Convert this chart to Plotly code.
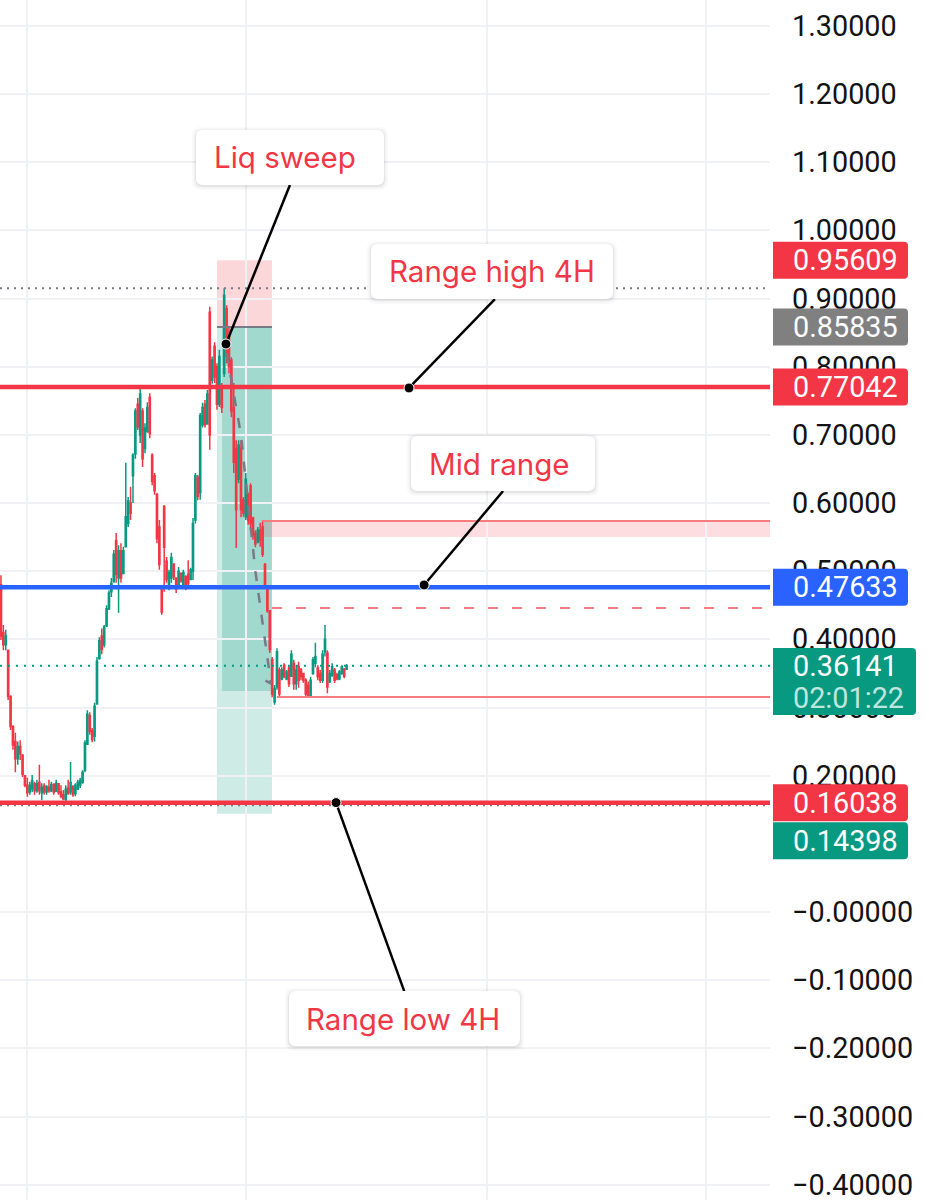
import plotly.graph_objects as go

# candles, one value per bar
opens = [.480,.410,.392,.384,.316,.272,.250,.225,.243,.230,.200,.186,.176,.181,.188,.178,.190,.175,.185,.176,
         .183,.178,.187,.177,.188,.176,.172,.165,.182,.176,.184,.174,.180,.186,.190,.208,.246,.288,.266,.258,
         .305,.372,.405,.392,.420,.445,.470,.485,.545,.490,.530,.497,.536,.570,.600,.640,.672,.745,.700,.735,
         .680,.705,.755,.670,.640,.612,.565,.475,.595,.515,.480,.490,.510,.490,.478,.497,.480,.492,.495,.488,
         .500,.575,.638,.615,.715,.745,.716,.880,.780,.830,.800,.745,.770,.790,.885,.845,.810,.740,.680,.635,
         .680,.605,.580,.612,.625,.578,.556,.542,.560,.565,.510,.476,.442,.370,.308,.330,.355,.342,.362,.342,
         .358,.346,.365,.335,.360,.355,.350,.340,.332,.318,.350,.365,.358,.350,.340,.382,.380,.338,.347,.355,
         .348,.342,.350,.356,.356]
highs = [.494,.421,.414,.384,.318,.274,.263,.250,.252,.232,.201,.197,.191,.201,.191,.194,.216,.189,.189,.186,
         .194,.191,.189,.194,.189,.186,.179,.186,.194,.220,.186,.189,.194,.197,.208,.252,.296,.293,.270,.307,
         .374,.403,.416,.421,.450,.472,.490,.531,.556,.538,.541,.536,.659,.609,.624,.673,.739,.754,.773,.739,
         .717,.748,.761,.673,.644,.615,.575,.477,.597,.521,.502,.527,.512,.491,.506,.497,.502,.494,.516,.505,
         .578,.644,.641,.732,.747,.751,.766,.888,.815,.836,.805,.825,.776,.915,.890,.858,.814,.776,.692,.692,
         .692,.609,.644,.615,.629,.580,.560,.565,.571,.575,.512,.477,.443,.374,.333,.387,.359,.359,.365,.355,
         .362,.384,.370,.362,.367,.358,.351,.343,.338,.345,.374,.395,.362,.355,.384,.421,.384,.355,.365,.358,
         .351,.355,.362,.358,.364]
lows = [.399,.384,.384,.311,.267,.238,.205,.216,.223,.198,.183,.169,.172,.176,.172,.175,.172,.164,.172,.172,
        .175,.176,.172,.176,.172,.167,.164,.157,.172,.172,.169,.170,.179,.182,.188,.205,.245,.260,.249,.250,
        .304,.370,.378,.388,.418,.443,.462,.483,.483,.439,.483,.495,.535,.565,.575,.600,.665,.707,.688,.653,
        .673,.703,.695,.626,.612,.541,.502,.436,.470,.483,.472,.483,.487,.468,.477,.483,.477,.472,.477,.487,
        .487,.570,.604,.605,.711,.711,.715,.678,.775,.776,.737,.741,.732,.785,.805,.790,.726,.644,.534,.629,
        .579,.580,.575,.568,.560,.546,.535,.541,.536,.521,.477,.439,.380,.315,.304,.326,.314,.340,.343,.340,
        .330,.345,.326,.326,.329,.340,.336,.315,.315,.315,.348,.359,.340,.336,.336,.375,.321,.336,.345,.336,
        .340,.340,.348,.343,.355]
closes = [.405,.392,.405,.316,.272,.245,.225,.243,.232,.202,.186,.175,.186,.193,.178,.188,.178,.183,.176,.184,
          .178,.187,.176,.189,.175,.170,.166,.180,.174,.190,.172,.186,.190,.193,.205,.248,.290,.265,.253,.302,
          .368,.398,.385,.418,.445,.468,.482,.525,.495,.530,.490,.530,.580,.603,.585,.670,.735,.712,.760,.665,
          .710,.740,.702,.632,.618,.548,.510,.440,.535,.488,.498,.520,.492,.474,.500,.486,.498,.476,.482,.502,
          .570,.640,.610,.728,.740,.715,.760,.700,.810,.785,.745,.815,.740,.905,.815,.800,.735,.660,.590,.685,
          .590,.585,.635,.575,.570,.552,.540,.560,.545,.525,.480,.442,.385,.320,.328,.382,.320,.355,.345,.352,
          .335,.378,.335,.355,.340,.345,.340,.320,.318,.340,.370,.375,.345,.340,.378,.400,.330,.350,.360,.340,
          .342,.352,.360,.346,.3614]
bars = list(range(len(closes)))

tick_vals = [1.3, 1.2, 1.1, 1.0, 0.9, 0.8, 0.7, 0.6, 0.5, 0.4, 0.3, 0.2, 0.0, -0.1, -0.2, -0.3, -0.4]
tick_text = ['1.30000', '1.20000', '1.10000', '1.00000', '0.90000', '0.80000', '0.70000', '0.60000', '0.50000',
             '0.40000', '0.30000', '0.20000', '−0.00000', '−0.10000', '−0.20000', '−0.30000', '−0.40000']
x_grid = [10.8, 102, 202.5, 293.8]

RED = '#F23645'
TEAL = '#089981'
BLUE = '#2962FF'
GREY = '#787B86'
AXIS_FONT = 'Roboto'

# price levels
range_high = 0.77042
mid_range = 0.47633
range_low = 0.16038
last_price = 0.36141
sweep_high = 0.915
low_dotted = 0.1565
stop = 0.95609
entry = 0.85835
target = 0.14398
pos_inner_low = 0.3242
zone_top = 0.5737
zone_bottom = 0.550
zone_mid = 0.446
zone_low = 0.3154
x_start = -0.4
x_end = 320.4

# position tool and zone, in bars
pos_left = 90
pos_inner_left = 92.1
pos_right = 112.9
zone_left = 108.8
zone_mid_left = 112.9
zone_low_left = 115

# grey dashed projection
proj_x = [94, 100, 106, 112.5, 107.5]
proj_y = [0.82, 0.70, 0.50, 0.335, 0.345]

# callouts
call_text = ['Liq sweep', 'Range high 4H', 'Mid range', 'Range low 4H']
call_px = [290, 492, 503, 404.5]      # box centre, px
call_text_px = [285, 492, 499.5, 402.5]
call_py = [157.5, 271.5, 463.5, 1018.5]
call_w = [188, 242, 184, 231]
call_tip_x = [93.75, 170, 176.3, 139.6]
call_tip_y = [0.8333, 0.7688, 0.4798, 0.1605]
call_from_x = [120.4, 205.8, 209.2, 168]
call_from_y = [1.0666, 0.899, 0.6176, -0.116]

# price labels, the last one is pushed down under its neighbour
label_text = ['0.95609', '0.85835', '0.77042', '0.47633', '0.16038', '0.14398']
label_price = [stop, entry, range_high, mid_range, range_low, 0.1047]
label_color = [RED, '#808080', RED, BLUE, RED, TEAL]


def fx(px):
    return px / 770


def rbox(w, h, r, r_left=None):
    # rounded box, pixel path around its anchor
    l = r if r_left is None else r_left
    return (f'M {-w/2 + l} {-h/2} L {w/2 - r} {-h/2} Q {w/2} {-h/2} {w/2} {-h/2 + r} '
            f'L {w/2} {h/2 - r} Q {w/2} {h/2} {w/2 - r} {h/2} L {-w/2 + l} {h/2} '
            f'Q {-w/2} {h/2} {-w/2} {h/2 - l} L {-w/2} {-h/2 + l} Q {-w/2} {-h/2} {-w/2 + l} {-h/2} Z')


def px_shape(cx, price, path, fill, dy=0):
    return dict(type='path', xref='paper', yref='y', xsizemode='pixel', ysizemode='pixel',
                xanchor=fx(cx), yanchor=price - dy / 681.6, path=path, fillcolor=fill,
                line=dict(width=0), layer='above')


fig = go.Figure()

fig.add_trace(go.Candlestick(
    x=bars, open=opens, high=highs, low=lows, close=closes,
    increasing=dict(line=dict(color=TEAL, width=1.5), fillcolor=TEAL),
    decreasing=dict(line=dict(color=RED, width=1.5), fillcolor=RED),
    whiskerwidth=0, hoverinfo='skip', showlegend=False,
))


def level(x0, price, color, width, dash='solid'):
    fig.add_trace(go.Scatter(x=[x0, x_end], y=[price, price], mode='lines', showlegend=False, hoverinfo='skip',
                             line=dict(color=color, width=width, dash=dash)))


level(x_start, sweep_high, GREY, 2, '2px,5px')
level(x_start, last_price, TEAL, 2, '2px,6px')
level(x_start, low_dotted, GREY, 2, '2px,5px')
level(zone_left, zone_top, '#F77C80', 2)
level(zone_mid_left, zone_mid, '#F77C80', 2, '10px,14px')
level(zone_low_left, zone_low, '#F77C80', 2)
level(x_start, range_high, RED, 4.5)
level(x_start, mid_range, BLUE, 4.5)
level(x_start, range_low, RED, 4.5)

fig.add_trace(go.Scatter(x=[pos_left, pos_right], y=[entry, entry], mode='lines', showlegend=False, hoverinfo='skip',
                         line=dict(color=GREY, width=2)))
fig.add_trace(go.Scatter(x=proj_x, y=proj_y, mode='lines', showlegend=False, hoverinfo='skip',
                         line=dict(color=GREY, width=2.5, dash='10px,12px')))

for i in range(len(call_text)):
    fig.add_trace(go.Scatter(x=[call_from_x[i], call_tip_x[i]], y=[call_from_y[i], call_tip_y[i]], mode='lines',
                             showlegend=False, hoverinfo='skip', line=dict(color='#000000', width=2.5)))
fig.add_trace(go.Scatter(x=call_tip_x, y=call_tip_y, mode='markers', showlegend=False, hoverinfo='skip',
                         marker=dict(color='#000000', size=10, line=dict(color='#FFFFFF', width=1))))

shapes = [
    dict(type='rect', xref='x', yref='y', x0=pos_left, x1=pos_right, y0=entry, y1=stop,
         fillcolor='rgba(242,54,69,0.2)', line_width=0, layer='below'),
    dict(type='rect', xref='x', yref='y', x0=pos_left, x1=pos_right, y0=target, y1=entry,
         fillcolor='rgba(8,153,129,0.2)', line_width=0, layer='below'),
    dict(type='rect', xref='x', yref='y', x0=pos_inner_left, x1=pos_right, y0=pos_inner_low, y1=entry,
         fillcolor='rgba(8,153,129,0.22)', line_width=0, layer='below'),
    dict(type='rect', xref='x', yref='y', x0=zone_left, x1=x_end, y0=zone_bottom, y1=zone_top,
         fillcolor='rgba(242,54,69,0.17)', line_width=0, layer='below'),
]

annotations = []

# callout boxes with a soft shadow
for i in range(len(call_text)):
    price = (912 - call_py[i]) / 681.6
    for grow, alpha in [(8, 0.02), (5, 0.03), (2, 0.05)]:
        shapes.append(px_shape(call_px[i], price, rbox(call_w[i] + grow, 55 + grow, 8),
                               f'rgba(0,0,0,{alpha})', dy=1))
    shapes.append(px_shape(call_px[i], price, rbox(call_w[i], 55, 7), '#FFFFFF'))
    annotations.append(dict(xref='paper', yref='y', x=fx(call_text_px[i]), y=price, text=call_text[i], showarrow=False,
                            xanchor='center', yanchor='middle', font=dict(family='Inter', size=29.5, color=RED)))

# price labels on the axis
for i in range(len(label_text)):
    shapes.append(px_shape(840.5, label_price[i], rbox(135, 37, 4, r_left=0), label_color[i]))
    annotations.append(dict(xref='paper', yref='y', x=fx(791), y=label_price[i], text=label_text[i], showarrow=False,
                            xanchor='left', yanchor='middle', font=dict(family=AXIS_FONT, size=28.8, color='#FFFFFF')))

# last price label with countdown
shapes.append(px_shape(844.5, (912 - 681.5) / 681.6, rbox(143, 67, 4, r_left=0), TEAL))
annotations.append(dict(xref='paper', yref='y', x=fx(791), y=last_price, text='0.36141', showarrow=False,
                        xanchor='left', yanchor='middle', font=dict(family=AXIS_FONT, size=28.8, color='#FFFFFF')))
annotations.append(dict(xref='paper', yref='y', x=fx(791), y=(912 - 698) / 681.6, text='02:01:22', showarrow=False,
                        xanchor='left', yanchor='middle', font=dict(family=AXIS_FONT, size=28.8, color='#BFE5DF')))

fig.update_layout(
    width=929, height=1200,
    margin=dict(l=0, r=159, t=0, b=0, autoexpand=False),
    paper_bgcolor='#FFFFFF', plot_bgcolor='#FFFFFF',
    showlegend=False,
    shapes=shapes, annotations=annotations,
    xaxis=dict(range=[x_start, x_end], tickvals=x_grid, showticklabels=False, ticks='', showgrid=True,
               gridcolor='#F0F1F4', gridwidth=2, zeroline=False, rangeslider=dict(visible=False), fixedrange=True),
    yaxis=dict(range=[-0.4225, 1.338], side='right', tickvals=tick_vals, ticktext=tick_text, ticks='',
               ticklabelstandoff=21, ticklabeloverflow='allow', tickfont=dict(family=AXIS_FONT, size=28.8, color='#131313'),
               showgrid=True, gridcolor='#F0F1F4', gridwidth=2, zeroline=False, showline=False, fixedrange=True),
)

fig.write_html("out.html", post_script="document.body.style.margin='0'", config=dict(displayModeBar=False))
